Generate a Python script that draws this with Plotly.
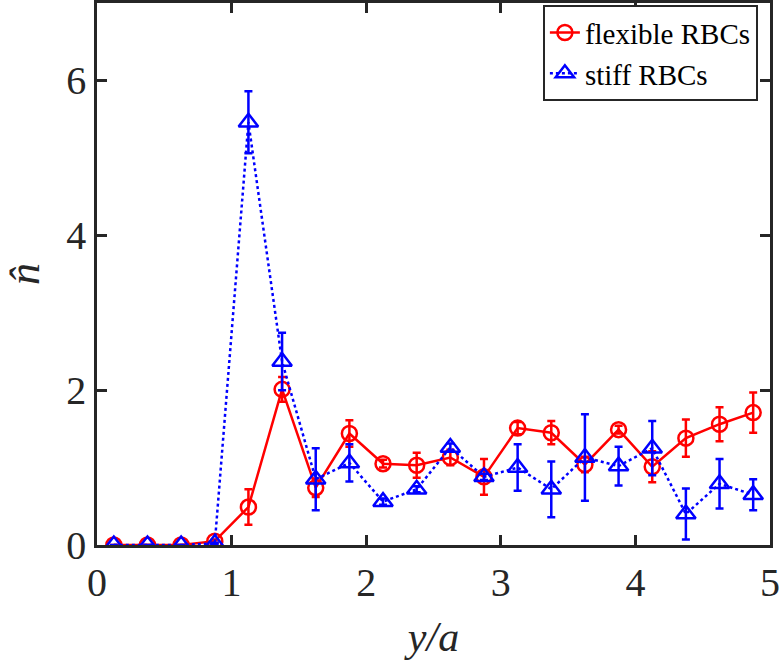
import plotly.graph_objects as go

x_pos = [0.125, 0.375, 0.625, 0.875, 1.125, 1.375, 1.625, 1.875, 2.125, 2.375,
         2.625, 2.875, 3.125, 3.375, 3.625, 3.875, 4.125, 4.375, 4.625, 4.875]

flex_vals = [0, 0, 0, 0.05, 0.49, 2.01, 0.74, 1.44, 1.05, 1.03,
             1.13, 0.88, 1.51, 1.45, 1.04, 1.49, 1.01, 1.38, 1.56, 1.71]
flex_err = [0, 0, 0, 0.02, 0.23, 0.16, 0.12, 0.17, 0.05, 0.16,
            0.10, 0.23, 0.08, 0.15, 0.10, 0.05, 0.20, 0.24, 0.22, 0.26]

stiff_vals = [0, 0, 0, 0.02, 5.46, 2.37, 0.85, 1.06, 0.56, 0.72,
              1.26, 0.88, 1.00, 0.72, 1.13, 1.02, 1.25, 0.40, 0.79, 0.65]
stiff_err = [0, 0, 0, 0.01, 0.40, 0.37, 0.40, 0.24, 0.04, 0.04,
             0.05, 0.04, 0.30, 0.36, 0.56, 0.25, 0.35, 0.33, 0.32, 0.20]

x_ticks = [0, 1, 2, 3, 4, 5]
y_ticks = [0, 2, 4, 6]

FONT = "Liberation Serif"
AX = "#262626"

fig = go.Figure()
fig.add_trace(go.Scatter(
    x=x_pos, y=flex_vals, name="flexible RBCs", mode="lines+markers",
    line=dict(color="#ff0000", width=2.5),
    marker=dict(symbol="circle-open", size=15, color="#ff0000", line=dict(width=2.5)),
    error_y=dict(type="data", array=flex_err, visible=True, color="#ff0000", thickness=2.5, width=4),
))
fig.add_trace(go.Scatter(
    x=x_pos, y=stiff_vals, name="stiff RBCs", mode="lines+markers",
    line=dict(color="#0000ff", width=2.5, dash="dot"),
    marker=dict(symbol="triangle-up-open", size=17, color="#0000ff", line=dict(width=2.5)),
    error_y=dict(type="data", array=stiff_err, visible=True, color="#0000ff", thickness=2.5, width=4),
))

fig.update_layout(
    width=783, height=667,
    margin=dict(l=97, r=13, t=3, b=122),
    paper_bgcolor="white", plot_bgcolor="white",
    font=dict(family=FONT, color="#262626", size=36),
    showlegend=True,
    legend=dict(x=0.982, y=0.996, xanchor="right", yanchor="top",
                bgcolor="white", bordercolor=AX, borderwidth=2,
                font=dict(family=FONT, size=29, color="black"),
                tracegroupgap=0, itemwidth=30),
)
fig.update_xaxes(
    range=[0, 5], tickvals=x_ticks, ticktext=[str(t) for t in x_ticks],
    showgrid=False, zeroline=False, showline=True, linecolor=AX, linewidth=2.5,
    mirror="ticks", ticks="inside", ticklen=10, tickwidth=2.5, tickcolor=AX,
    tickfont=dict(family=FONT, size=40, color="#262626"), automargin=False,
    title=dict(text="<i>y/a</i>", font=dict(family=FONT, size=42, color="#262626"), standoff=18),
)
fig.update_yaxes(
    range=[0, 7], tickvals=y_ticks, ticktext=[str(t) for t in y_ticks],
    showgrid=False, zeroline=False, showline=True, linecolor=AX, linewidth=2.5,
    mirror="ticks", ticks="inside", ticklen=10, tickwidth=2.5, tickcolor=AX,
    tickfont=dict(family=FONT, size=40, color="#262626"), automargin=False,
    title=dict(text="<i>n̂</i>", font=dict(family=FONT, size=44, color="#262626"), standoff=22),
)

fig.write_html("out.html", config={"displayModeBar": False},
               post_script="document.body.style.margin='0';")
